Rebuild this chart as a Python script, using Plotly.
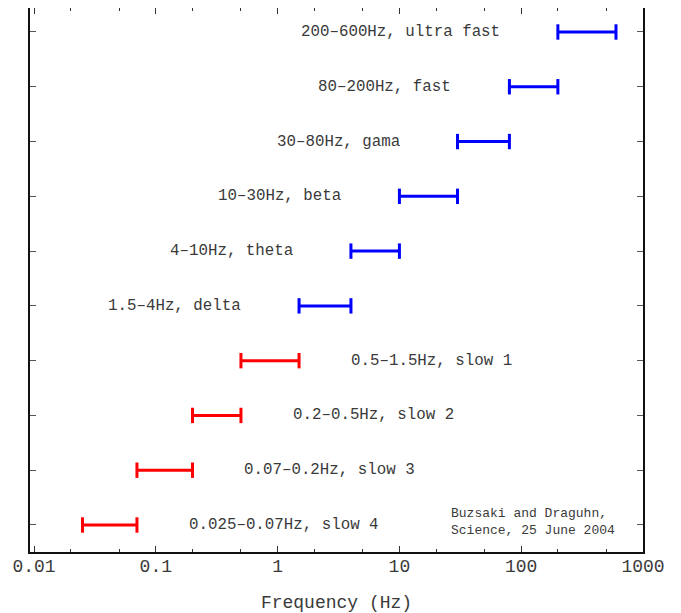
import math
import plotly.graph_objects as go

# Frequency bands (Hz), bottom to top
band_lo = [0.025, 0.07, 0.2, 0.5, 1.5, 4, 10, 30, 80, 200]
band_hi = [0.07, 0.2, 0.5, 1.5, 4, 10, 30, 80, 200, 600]
band_names = ["0.025\u20130.07Hz, slow 4", "0.07\u20130.2Hz, slow 3", "0.2\u20130.5Hz, slow 2",
              "0.5\u20131.5Hz, slow 1", "1.5\u20134Hz, delta", "4\u201310Hz, theta",
              "10\u201330Hz, beta", "30\u201380Hz, gama", "80\u2013200Hz, fast",
              "200\u2013600Hz, ultra fast"]
band_group = ["slow", "slow", "slow", "slow", "fast", "fast", "fast", "fast", "fast", "fast"]
levels = list(range(1, 11))

x_tickvals = [0.01, 0.1, 1, 10, 100, 1000]
x_ticktext = ["0.01", "0.1", "1", "10", "100", "1000"]

colors = {"slow": "#ff0000", "fast": "#0000ff"}
FONT = "Liberation Mono, Courier New, monospace"
TXT = "#3a3a3a"

fig = go.Figure()
for grp in ["slow", "fast"]:
    xs, ys = [], []
    for lo, hi, g, lv in zip(band_lo, band_hi, band_group, levels):
        if g == grp:
            xs += [lo, hi, None]
            ys += [lv, lv, None]
    fig.add_trace(go.Scatter(
        x=xs, y=ys, mode="lines+markers",
        line=dict(color=colors[grp], width=3),
        marker=dict(symbol="line-ns", size=11, line=dict(color=colors[grp], width=3)),
        showlegend=False, hoverinfo="skip"))

for lo, hi, name, g, lv in zip(band_lo, band_hi, band_names, band_group, levels):
    if g == "fast":
        fig.add_annotation(x=math.log10(lo), y=lv, text=name, showarrow=False,
                           xanchor="right", yanchor="middle", xshift=-56, yshift=0,
                           font=dict(family=FONT, size=15.8, color=TXT))
    else:
        fig.add_annotation(x=math.log10(hi), y=lv, text=name, showarrow=False,
                           xanchor="left", yanchor="middle", xshift=50, yshift=0,
                           font=dict(family=FONT, size=15.8, color=TXT))

fig.add_annotation(x=math.log10(25.5), y=1, text="Buzsaki and Draguhn,<br>Science, 25 June 2004",
                   showarrow=False, xanchor="left", yanchor="middle", align="left", yshift=3,
                   font=dict(family=FONT, size=13, color=TXT))

fig.update_xaxes(type="log", range=[-2.033, 3.0], automargin=False,
                 tickvals=x_tickvals, ticktext=x_ticktext,
                 ticks="inside", ticklen=6, tickwidth=1, tickcolor="#333",
                 minor=dict(ticks="inside", ticklen=3, tickcolor="#333", showgrid=False),
                 showline=True, linecolor="#111", linewidth=2, mirror="ticks",
                 showgrid=False, zeroline=False, ticklabelstandoff=-4,
                 tickfont=dict(family=FONT, size=18, color=TXT),
                 title=dict(text="Frequency (Hz)", font=dict(family=FONT, size=18, color=TXT), standoff=22))
fig.update_yaxes(range=[0.507, 10.438], tickvals=levels, showticklabels=False, automargin=False,
                 ticks="inside", ticklen=6, tickwidth=1, tickcolor="#555",
                 showline=True, linecolor="#111", linewidth=2, mirror="ticks",
                 showgrid=False, zeroline=False)

fig.update_layout(width=673, height=605, margin=dict(l=22, r=38, t=0, b=61),
                  plot_bgcolor="white", paper_bgcolor="white")
fig.write_html("out.html")
